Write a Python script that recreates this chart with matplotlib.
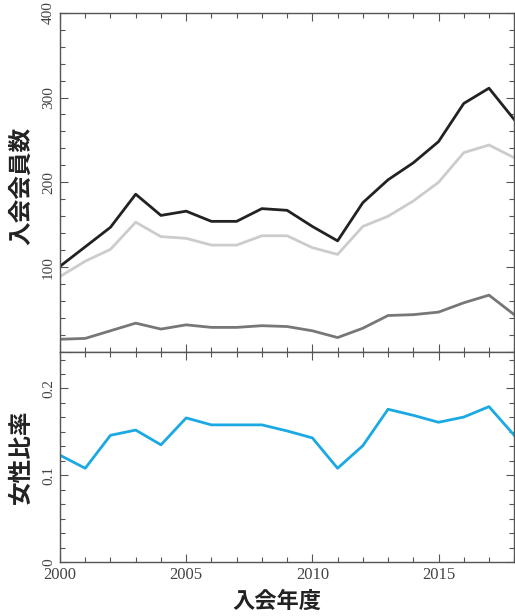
import matplotlib
matplotlib.use("Agg")
import matplotlib.pyplot as plt
from matplotlib.ticker import MultipleLocator, FormatStrFormatter

years = list(range(2000, 2019))
total = [101, 124, 147, 186, 161, 166, 154, 154, 169, 167, 148, 131, 176, 203, 223, 248, 293, 311, 274]
men = [89, 107, 121, 153, 136, 134, 126, 126, 137, 137, 123, 115, 148, 160, 178, 200, 235, 244, 229]
women = [15, 16, 25, 34, 27, 32, 29, 29, 31, 30, 25, 17, 28, 43, 44, 47, 58, 67, 44]
ratio = [0.123, 0.108, 0.146, 0.152, 0.135, 0.166, 0.158, 0.158, 0.158, 0.151, 0.143, 0.108, 0.134,
         0.176, 0.169, 0.161, 0.167, 0.179, 0.146]

jp = ["Noto Sans CJK JP", "DejaVu Sans"]
serif = "Liberation Serif"
tick_color = "#444444"

fig = plt.figure(figsize=(5.15, 6.16), dpi=100)
ax1 = fig.add_axes([0.1165, 0.4286, 0.882, 0.5508])
ax2 = fig.add_axes([0.1165, 0.0877, 0.882, 0.3409])

ax1.plot(years, total, color="#222222", lw=2.0)
ax1.plot(years, men, color="#cccccc", lw=2.0)
ax1.plot(years, women, color="#777777", lw=2.0)
ax2.plot(years, ratio, color="#1aa9e3", lw=2.0)

ax1.set_ylim(0, 400)
ax1.set_yticks([100, 200, 300, 400])
ax1.yaxis.set_minor_locator(MultipleLocator(20))
ax2.set_ylim(0, 0.242)
ax2.set_yticks([0, 0.1, 0.2])
ax2.yaxis.set_major_formatter(FormatStrFormatter("%g"))
ax2.yaxis.set_minor_locator(MultipleLocator(0.1 / 6))

for ax in (ax1, ax2):
    ax.set_xlim(2000, 2018)
    ax.xaxis.set_major_locator(MultipleLocator(5))
    ax.xaxis.set_minor_locator(MultipleLocator(1))
    ax.tick_params(which="both", direction="in", top=True, right=True,
                   colors="#555555", labelcolor=tick_color, width=0.8)
    ax.tick_params(which="major", length=6)
    ax.tick_params(which="minor", length=3.5)
    for s in ax.spines.values():
        s.set_color("#555555")
        s.set_linewidth(1.0)
    for lab in ax.get_yticklabels():
        lab.set_rotation(90)
        lab.set_va("center")
        lab.set_family(serif)
        lab.set_fontsize(11)
    for lab in ax.get_xticklabels():
        lab.set_family(serif)
        lab.set_fontsize(12)

ax1.tick_params(labelbottom=False)

ax1.set_ylabel("入会会員数", family=jp, fontsize=17, fontweight="bold", color="#222222")
ax2.set_ylabel("女性比率", family=jp, fontsize=17, fontweight="bold", color="#222222")
ax1.yaxis.set_label_coords(-0.06, 0.49)
ax2.yaxis.set_label_coords(-0.06, 0.5)
ax2.set_xlabel("入会年度", family=jp, fontsize=16, fontweight="bold", color="#222222")
ax2.xaxis.set_label_coords(0.478, -0.135)

fig.savefig("out.png", dpi=100)
